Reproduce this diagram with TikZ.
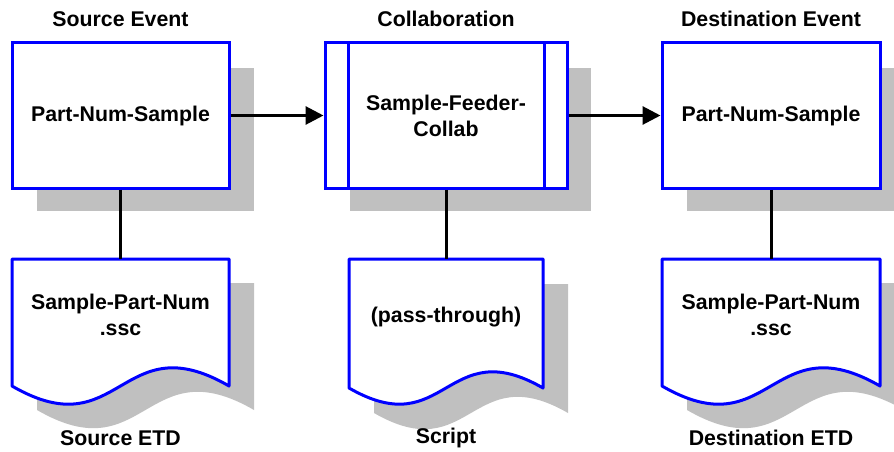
\documentclass[tikz,border=0pt]{standalone}
\usepackage{fontspec}
\setmainfont{Liberation Sans}
\usetikzlibrary{arrows.meta}
\definecolor{boxblue}{RGB}{0,0,255}
\definecolor{shadegray}{RGB}{192,192,192}
\begin{document}
\begin{tikzpicture}[x=1pt,y=-1pt,
  lbl/.style={font=\fontsize{21.3}{26}\selectfont\bfseries, align=center, inner sep=0pt},
  boxnode/.style={draw=boxblue, line width=3pt, fill=white, minimum height=145pt, inner sep=0pt,
    font=\fontsize{21.3}{26}\selectfont\bfseries, align=center},
  docline/.style={draw=boxblue, line width=3pt, fill=white, line join=round},
  docshadow/.style={fill=shadegray},
  conn/.style={draw=black, line width=3pt},
  arr/.style={conn, -{Triangle[length=18pt,width=18pt]}},
  anchorbox/.style={inner sep=0pt, outer sep=0pt}]
\useasboundingbox (0,0) rectangle (894,452);

% box shadows
\fill[shadegray] (37,68) rectangle (254,211);
\fill[shadegray] (350,68) rectangle (591,211);
\fill[shadegray] (687,68) rectangle (905,211);

% document shadows
\path[docshadow] (37,283) -- (254,283) -- (254,410) .. controls (145.5,347) and (145.5,473) .. (37,410) -- cycle;
\path[docshadow] (374,284) -- (568,284) -- (568,413) .. controls (471,357) and (471,469) .. (374,413) -- cycle;
\path[docshadow] (687,283) -- (904,283) -- (904,410) .. controls (795.5,347) and (795.5,473) .. (687,410) -- cycle;

% documents
\path[docline] (12,259) -- (229,259) -- (229,386) .. controls (120.5,323) and (120.5,449) .. (12,386) -- cycle;
\path[docline] (349,259) -- (543,259) -- (543,388) .. controls (446,332) and (446,444) .. (349,388) -- cycle;
\path[docline] (662,259) -- (880,259) -- (880,386) .. controls (771,323) and (771,449) .. (662,386) -- cycle;

\node[anchorbox, minimum width=217pt, minimum height=127pt] (d1) at (120.5,322.5) {};
\node[anchorbox, minimum width=194pt, minimum height=129pt] (d2) at (446,323.5) {};
\node[anchorbox, minimum width=218pt, minimum height=127pt] (d3) at (771,322.5) {};

\node[lbl] (d1t) at (120.5,314.5) {Sample-Part-Num\\.ssc};
\node[lbl] (d2t) at (446,317) {(pass-through)};
\node[lbl] (d3t) at (771,314.5) {Sample-Part-Num\\.ssc};

% boxes
\node[boxnode, minimum width=217pt] (b1) at (120.5,115.5) {Part-Num-Sample};
\node[boxnode, minimum width=242pt] (b2) at (446,115.5) {Sample-Feeder-\\Collab};
\node[boxnode, minimum width=218pt] (b3) at (771,115.5) {Part-Num-Sample};
\draw[draw=boxblue, line width=3pt] ([xshift=25pt]b2.north west) -- ([xshift=25pt]b2.south west);
\draw[draw=boxblue, line width=3pt] ([xshift=-24pt]b2.north east) -- ([xshift=-24pt]b2.south east);

% titles
\node[lbl] (t1) at (120.5,19) {Source Event};
\node[lbl] (t2) at (446,19) {Collaboration};
\node[lbl] (t3) at (771,19) {Destination Event};

% captions
\node[lbl] (c1) at (120.5,438) {Source ETD};
\node[lbl] (c2) at (446,438) {Script};
\node[lbl] (c3) at (771,438) {Destination ETD};

% connectors
\draw[arr] (b1.east) -- (b2.west);
\draw[arr] (b2.east) -- (b3.west);
\draw[conn] (b1.south) -- (d1.north);
\draw[conn] (b2.south) -- (d2.north);
\draw[conn] (b3.south) -- (d3.north);
\end{tikzpicture}
\end{document}
